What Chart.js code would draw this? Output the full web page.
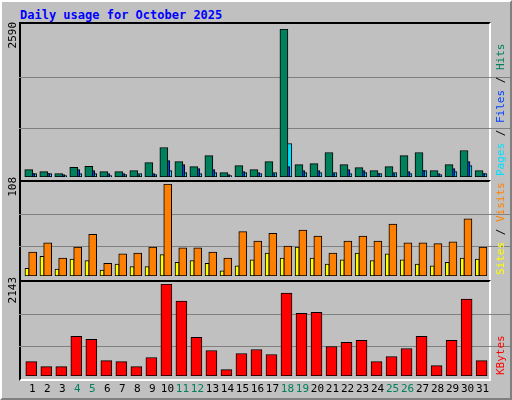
<!DOCTYPE html>
<html><head><meta charset="utf-8">
<script src="https://cdn.jsdelivr.net/npm/chart.js@4/dist/chart.umd.min.js"></script>
<style>
html,body{margin:0;padding:0;background:#fff}
#wrap{position:relative;width:512px;height:400px;background:#C0C0C0;box-sizing:border-box;border-top:2px solid #fff;border-left:2px solid #fff;border-right:2px solid #808080;border-bottom:2px solid #808080}
.panel{position:absolute;left:17px;width:472px;box-sizing:border-box;border-top:2px solid #000;border-left:2px solid #000;border-right:2px solid #fff;border-bottom:2px solid #fff}
canvas{position:absolute;left:0;top:0}
#title{position:absolute;left:18px;top:6px;font:bold 12px "DejaVu Sans Mono",monospace;color:#0000ff}
</style></head><body>
<div id="wrap">
<div id="title">Daily usage for October 2025</div>
<div class="panel" style="top:20px;height:160px"></div>
<div class="panel" style="top:178px;height:102px"></div>
<div class="panel" style="top:278px;height:101px"></div>
</div>
<script>
const days=[1,2,3,4,5,6,7,8,9,10,11,12,13,14,15,16,17,18,19,20,21,22,23,24,25,26,27,28,29,30,31];
const weekend=[4,5,11,12,18,19,25,26];
const hits=[129,94,59,170,188,94,94,111,252,516,270,182,375,76,199,129,270,2590,217,235,428,217,164,111,182,375,428,111,217,463,111];
const files=[59,59,41,129,111,59,59,41,59,287,217,147,129,41,94,76,59,182,111,111,59,129,111,59,59,94,111,59,147,270,59];
const pages=[59,59,23,59,59,23,41,59,41,111,76,59,76,23,76,59,76,587,76,76,76,59,76,59,76,59,111,41,94,199,59];
const visits=[28,39,21,34,49,15,26,27,34,108,33,33,28,21,52,41,50,35,54,47,27,41,47,41,61,39,39,38,40,67,34];
const sites=[9,23,8,20,18,7,14,11,11,25,16,18,15,6,12,19,27,21,34,21,14,19,27,18,26,19,14,12,16,21,20];
const kbytes=[336,219,219,923,852,360,336,219,430,2143,1744,899,594,149,524,618,500,1931,1462,1486,688,782,829,336,454,641,923,242,829,1791,360];
const maxTop=2590,maxMid=108,maxBot=2143;
const FONT='11px "DejaVu Sans Mono", monospace';

function pts(vals,off){return vals.map((v,i)=>({x:days[i]+off,y:v}));}
function ds(vals,off,color,w){return {data:pts(vals,off),backgroundColor:color,borderColor:'#000',borderWidth:1,borderSkipped:false,barThickness:w,grouped:false};}

function mk(id,top,bottom,datasets,max,leftLabel,rightParts,xlabels){
  const c=document.createElement('canvas');c.width=512;c.height=400;c.style.width='512px';c.style.height='400px';
  document.getElementById('wrap').appendChild(c);
  c.style.left='-2px';c.style.top='-2px';
  new Chart(c,{type:'bar',data:{datasets:datasets},
    options:{responsive:false,animation:false,events:[],
      layout:{padding:{left:20,right:22,top:top,bottom:400-bottom}},
      plugins:{legend:{display:false},tooltip:{enabled:false}},
      scales:{x:{type:'linear',min:0.247,max:31.56,offset:false,grid:{offset:false},display:false},
              y:{min:0,max:max,display:false}}},
    plugins:[{id:'deco'+id,
      beforeDatasetsDraw(ch){const g=ch.ctx,a=ch.chartArea,y=ch.scales.y;g.save();g.strokeStyle='#808080';g.lineWidth=1;
        [0.33,0.675].forEach(f=>{const py=Math.round(y.getPixelForValue(max*f))+0.5;g.beginPath();g.moveTo(a.left-1,py);g.lineTo(a.right+20,py);g.stroke();});g.restore();},
      afterDraw(ch){const g=ch.ctx,a=ch.chartArea,x=ch.scales.x;g.save();g.font=FONT;g.textBaseline='middle';
        g.save();g.translate(13,a.top-7);g.rotate(-Math.PI/2);g.textAlign='right';g.fillStyle='#000';g.fillText(leftLabel,0,0);g.restore();
        g.save();g.translate(501,bottom-1);g.rotate(-Math.PI/2);g.textAlign='left';let px=0;
        rightParts.forEach(p=>{g.fillStyle=p[1];g.fillText(p[0],px,0);px+=g.measureText(p[0]).width;});g.restore();
        if(xlabels){g.textAlign='center';xlabels.forEach(d=>{g.fillStyle=weekend.includes(d)?'#00805c':'#000';g.fillText(String(d),x.getPixelForValue(d)+1,bottom+13);});}
        g.restore();}}]});
}
mk(1,29,177,[ds(hits,-0.17,'#00805c',8),ds(files,-0.04,'#0040ff',8),ds(pages,0.09,'#00e0ff',8)],maxTop,String(maxTop),
  [['Pages','#00e0ff'],[' / ','#000'],['Files','#0040ff'],[' / ','#000'],['Hits','#00805c']],null);
mk(2,184,276,[ds(sites,-0.29,'#ffff00',4),ds(visits,0.09,'#ff8000',8)],maxMid,String(maxMid),
  [['Sites','#ffff00'],[' / ','#000'],['Visits','#ff8000']],null);
mk(3,284,376,[ds(kbytes,0,'#ff0000',11)],maxBot,String(maxBot),[['KBytes','#ff0000']],days);
</script></body></html>
